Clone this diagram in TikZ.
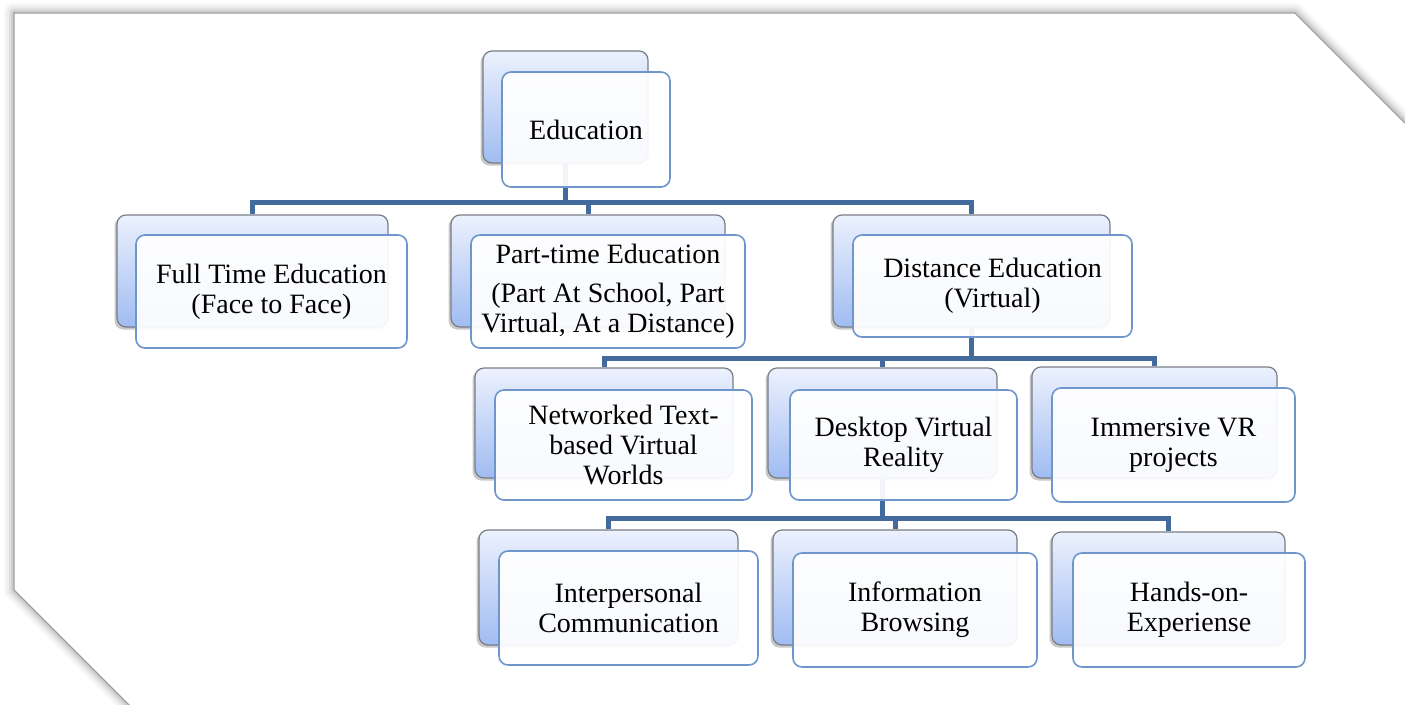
\documentclass[tikz,border=0pt]{standalone}
\usepackage{fontspec}
\setmainfont{Liberation Serif}
\usetikzlibrary{shadows}
\definecolor{conncol}{RGB}{66,106,156}
\definecolor{frontedge}{RGB}{110,150,205}
\definecolor{backtop}{RGB}{236,241,253}
\definecolor{backbot}{RGB}{160,188,242}
\definecolor{backedge}{RGB}{120,125,135}
\tikzset{
  paperpath/.style={insert path={(14,13) -- (1295,13) -- (1425,143) -- (1425,725) -- (149,725) -- (14,590) -- cycle}},
  backbox/.style={draw=backedge, line width=1.2pt, rounded corners=9pt, inner sep=0pt,
    top color=backtop, bottom color=backbot,
    drop shadow={shadow xshift=-2.5pt, shadow yshift=-2.5pt, opacity=0.3, fill=black!70}},
  frontbox/.style={draw=frontedge, line width=1.6pt, rounded corners=9pt, inner sep=0pt,
    fill=white, fill opacity=0.93, text opacity=1, align=center,
    font=\fontsize{28}{30}\selectfont, text=black},
  conn/.style={draw=conncol, line width=5pt}
}
\begin{document}
\begin{tikzpicture}[x=1pt,y=-1pt]
\useasboundingbox (0,0) rectangle (1405,704);
\fill[white] (0,0) rectangle (1405,704);
\begin{scope}
\clip (0,0) rectangle (1405,704);
\foreach \w/\o in {20/0.03,15/0.04,10/0.05,6/0.07} {
  \draw[black, line width=\w pt, opacity=\o, line join=round, paperpath];
}
\fill[white, paperpath];
\draw[gray!75, line width=1.3pt, paperpath];
\end{scope}

% bus coordinates
\coordinate (bus1) at (0,202);
\coordinate (bus2) at (0,358);
\coordinate (bus3) at (0,518);

% back boxes
\node[backbox, minimum width=165, minimum height=112] (eduB) at (565.5,107) {};
\node[backbox, minimum width=271, minimum height=112] (fullB) at (252.5,271) {};
\node[backbox, minimum width=274, minimum height=112] (partB) at (588,271) {};
\node[backbox, minimum width=277, minimum height=112] (distB) at (971.5,271) {};
\node[backbox, minimum width=258, minimum height=110] (netB) at (604,423) {};
\node[backbox, minimum width=229, minimum height=110] (deskB) at (882.5,423) {};
\node[backbox, minimum width=245, minimum height=111] (immB) at (1154.5,422.5) {};
\node[backbox, minimum width=259, minimum height=115] (interB) at (608.5,587.5) {};
\node[backbox, minimum width=244, minimum height=115] (infoB) at (895,587.5) {};
\node[backbox, minimum width=233, minimum height=113] (handsB) at (1168.5,588.5) {};

% connectors
\draw[conn] (eduB.south) -- (eduB.south |- bus1) -| (fullB.north);
\draw[conn] (eduB.south |- bus1) -| (partB.north);
\draw[conn] (eduB.south |- bus1) -| (distB.north);
\draw[conn] (distB.south) -- (distB.south |- bus2) -| (netB.north);
\draw[conn] (distB.south |- bus2) -| (deskB.north);
\draw[conn] (distB.south |- bus2) -| (immB.north);
\draw[conn] (deskB.south) -- (deskB.south |- bus3) -| (interB.north);
\draw[conn] (deskB.south |- bus3) -| (infoB.north);
\draw[conn] (deskB.south |- bus3) -| (handsB.north);

% front boxes
\node[frontbox, minimum width=168, minimum height=115] (edu) at (586,129.5) {Education};
\node[frontbox, minimum width=271, minimum height=113] (full) at (271.5,291.5) {Full Time Education\\(Face to Face)};
\node[frontbox, minimum width=274, minimum height=113] (part) at (608,291.5) {Part-time Education\\[9pt](Part At School, Part\\Virtual, At a Distance)};
\node[frontbox, minimum width=279, minimum height=102] (dist) at (992.5,286) {Distance Education\\(Virtual)};
\node[frontbox, minimum width=257, minimum height=110] (net) at (623.5,445) {Networked Text-\\based Virtual\\Worlds};
\node[frontbox, minimum width=227, minimum height=110] (desk) at (903.5,445) {Desktop Virtual\\Reality};
\node[frontbox, minimum width=243, minimum height=114] (imm) at (1173.5,445) {Immersive VR\\projects};
\node[frontbox, minimum width=259, minimum height=114] (inter) at (628.5,608) {Interpersonal\\Communication};
\node[frontbox, minimum width=244, minimum height=114] (info) at (915,610) {Information\\Browsing};
\node[frontbox, minimum width=232, minimum height=114] (hands) at (1189,610) {Hands-on-\\Experiense};
\end{tikzpicture}
\end{document}
